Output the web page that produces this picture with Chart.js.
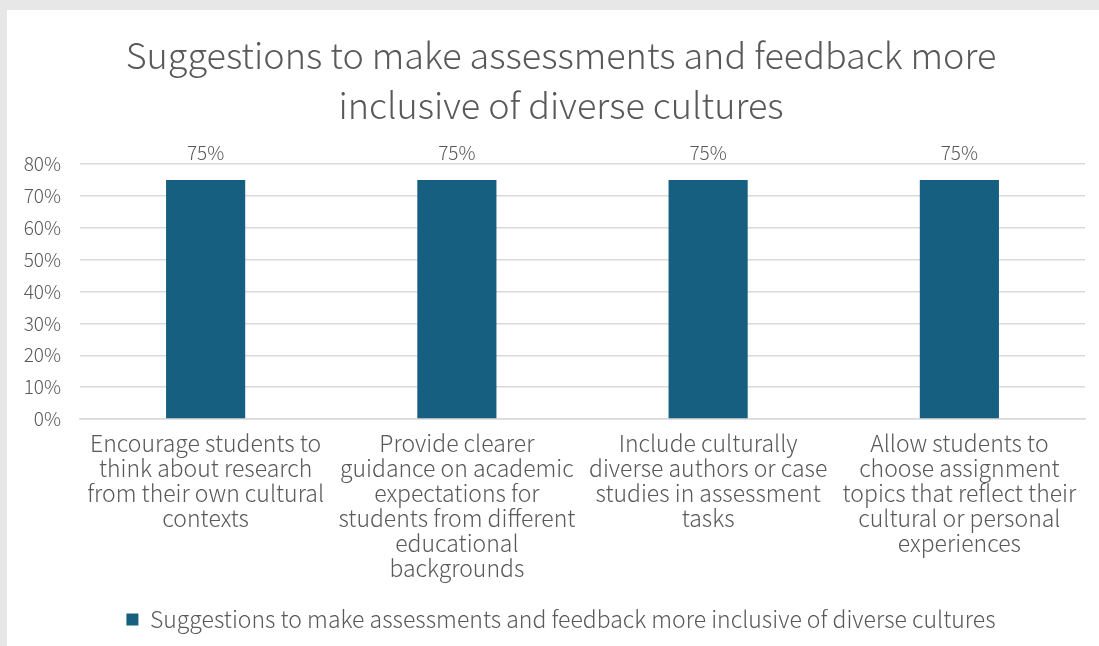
<!DOCTYPE html>
<html>
<head>
<meta charset="utf-8">
<title>Assessment suggestions</title>
<script src="https://cdn.jsdelivr.net/npm/chart.js@4/dist/chart.umd.min.js"></script>
<style>
  html, body { margin: 0; padding: 0; background: #e7e7e7; overflow: hidden; }
  #wrap { position: absolute; left: 7px; top: 10px; width: 1108px; height: 636px; background: #fff; }
</style>
</head>
<body>
<div id="wrap"><canvas id="myChart" width="1108" height="636"></canvas></div>
<script>
const categories = [
  ["Encourage students to", "think about research", "from their own cultural", "contexts"],
  ["Provide clearer", "guidance on academic", "expectations for", "students from different", "educational", "backgrounds"],
  ["Include culturally", "diverse authors or case", "studies in assessment", "tasks"],
  ["Allow students to", "choose assignment", "topics that reflect their", "cultural or personal", "experiences"]
];
const values = [75, 75, 75, 75];
const yTicks = [0, 10, 20, 30, 40, 50, 60, 70, 80];
const seriesName = "Suggestions to make assessments and feedback more inclusive of diverse cultures";
const titleLines = ["Suggestions to make assessments and feedback more", "inclusive of diverse cultures"];

const fontName = "'Noto Sans CJK SC', 'Noto Sans', sans-serif";
const textColor = "#595959";

// writes the value over each bar
const barLabels = {
  id: "barLabels",
  afterDatasetsDraw(chart) {
    const ctx = chart.ctx;
    const meta = chart.getDatasetMeta(0);
    ctx.save();
    ctx.font = "300 19px " + fontName;
    ctx.fillStyle = textColor;
    ctx.textAlign = "center";
    ctx.textBaseline = "middle";
    meta.data.forEach(function(bar, i) {
      ctx.fillText(values[i] + "%", bar.x, bar.y - 27);
    });
    ctx.restore();
  }
};

new Chart("myChart", {
  type: "bar",
  data: {
    labels: categories,
    datasets: [{
      label: seriesName,
      data: values,
      backgroundColor: "#175f80",
      categoryPercentage: 1,
      barPercentage: 0.315
    }]
  },
  options: {
    responsive: false,
    animation: false,
    layout: { padding: { left: 10, right: 10, top: 0, bottom: 5 } },
    plugins: {
      title: {
        display: true,
        text: titleLines,
        color: textColor,
        font: { family: fontName, size: 36, weight: 300, lineHeight: 1.39 },
        padding: { top: 20, bottom: 34 }
      },
      legend: {
        position: "bottom",
        labels: {
          color: textColor,
          font: { family: fontName, size: 23, weight: 300 },
          boxWidth: 12,
          boxHeight: 12,
          padding: 10
        }
      },
      tooltip: { enabled: false }
    },
    scales: {
      y: {
        min: 0,
        max: 80,
        afterBuildTicks(axis) {
          axis.ticks = yTicks.map(v => ({ value: v }));
        },
        afterFit(axis) { axis.width = 63; },
        border: { display: false },
        grid: { color: "#d9d9d9", lineWidth: 1.5, drawTicks: false },
        ticks: {
          color: textColor,
          font: { family: fontName, size: 19, weight: 300 },
          padding: 19,
          callback: v => v + "%"
        }
      },
      // empty right-hand strip so the plot stops short of the canvas edge
      yRight: {
        type: "linear",
        position: "right",
        afterFit(axis) { axis.width = 20; },
        border: { display: false },
        grid: { display: false, drawTicks: false },
        ticks: { display: false }
      },
      x: {
        afterFit(axis) { axis.height = 179; },
        border: { color: "#d9d9d9", width: 1.5 },
        grid: { display: false, drawTicks: false },
        ticks: {
          color: textColor,
          font: { family: fontName, size: 23, weight: 300, lineHeight: 1.087 },
          padding: 12,
          maxRotation: 0,
          autoSkip: false
        }
      }
    }
  },
  plugins: [barLabels]
});
</script>
</body>
</html>
